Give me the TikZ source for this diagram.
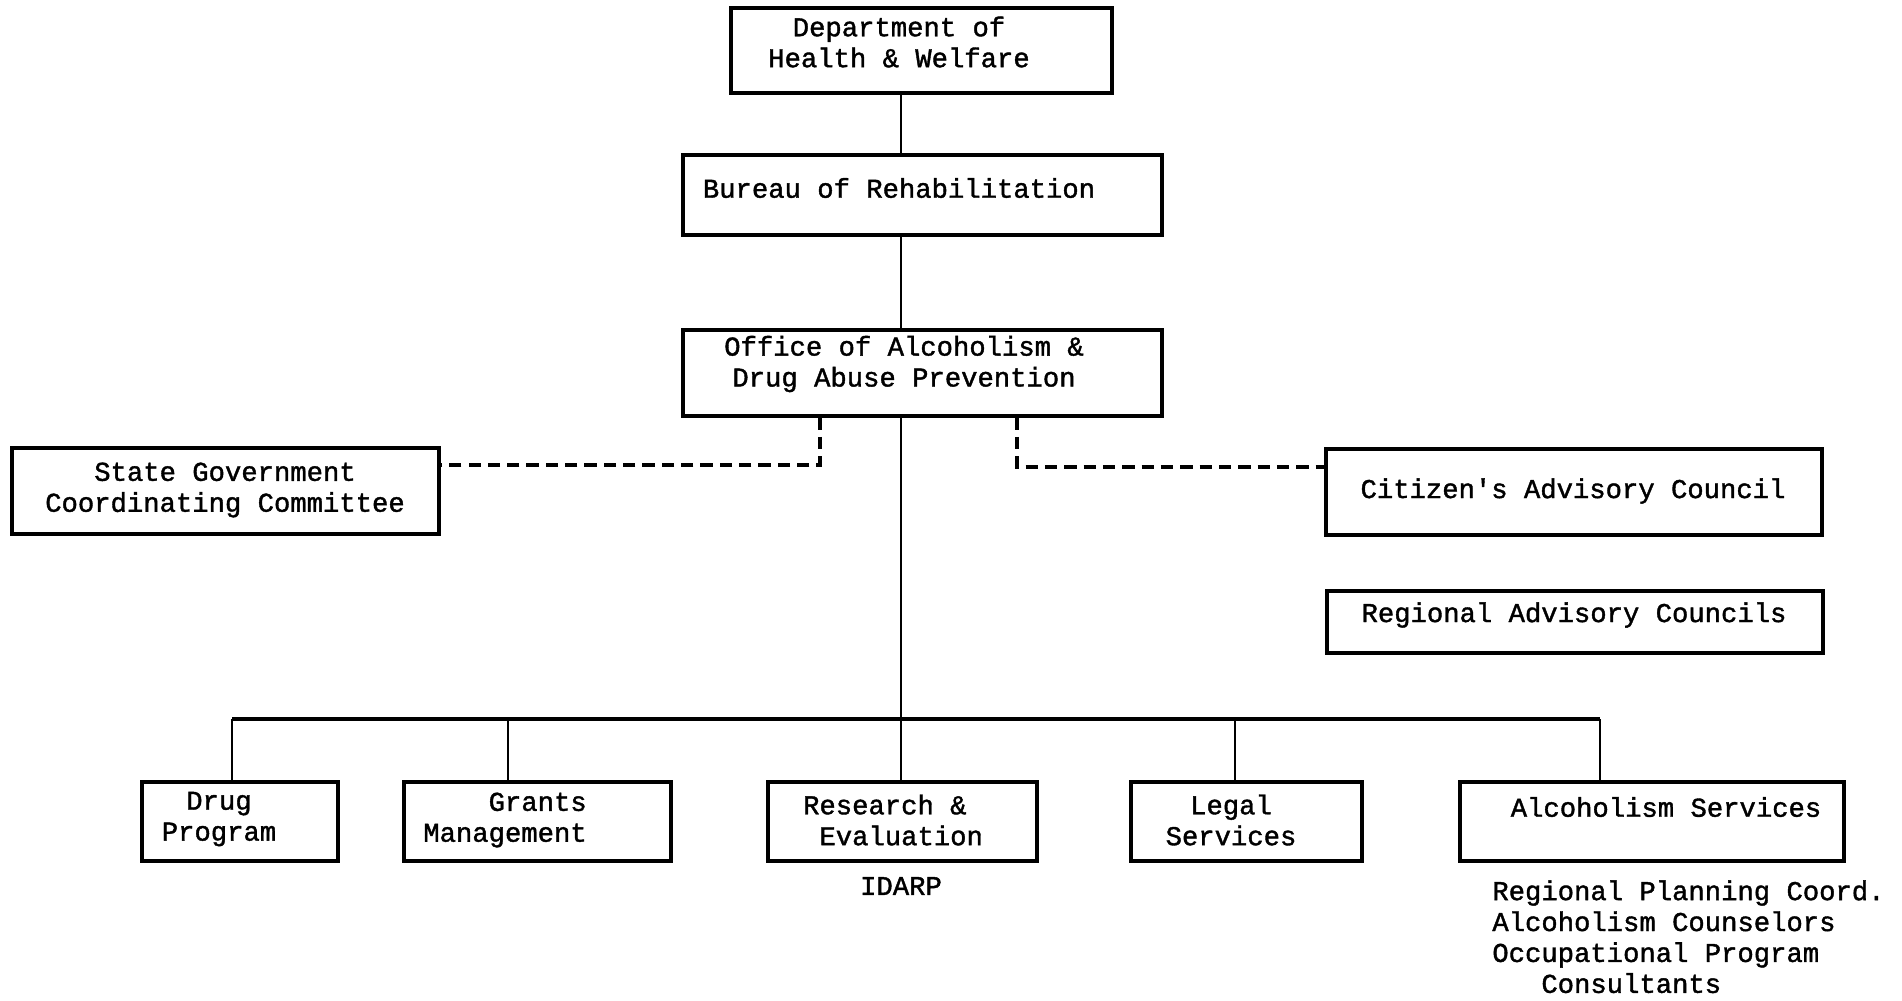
\documentclass[tikz,border=0pt]{standalone}
\usepackage{fontspec}
\setmainfont{Liberation Mono}[FakeBold=1.4]
\begin{document}
\begin{tikzpicture}[x=0.02cm,y=-0.02cm,
  unit/.style={draw,line width=1.9pt,inner sep=0pt},
  txt/.style={inner sep=0pt,font=\fontsize{15.5}{17.6}\selectfont,align=center},
  link/.style={line width=1.3pt},
  bus/.style={line width=2pt},
  dashlink/.style={line width=2pt,dash pattern=on 7pt off 4pt}]
  \useasboundingbox (0,0) rectangle (1902,1000);
  \node[unit,minimum width=7.62cm,minimum height=1.70cm] (dept) at (921.5,50.5) {};
  \node[unit,minimum width=9.58cm,minimum height=1.60cm] (bureau) at (922.5,195) {};
  \node[unit,minimum width=9.58cm,minimum height=1.72cm] (office) at (922.5,373) {};
  \node[unit,minimum width=8.54cm,minimum height=1.72cm] (state) at (225.5,491) {};
  \node[unit,minimum width=9.92cm,minimum height=1.72cm] (citizen) at (1574,492) {};
  \node[unit,minimum width=9.92cm,minimum height=1.24cm] (regional) at (1575,622) {};
  \node[unit,minimum width=3.92cm,minimum height=1.58cm] (drug) at (240,821.5) {};
  \node[unit,minimum width=5.34cm,minimum height=1.58cm] (grants) at (537.5,821.5) {};
  \node[unit,minimum width=5.38cm,minimum height=1.58cm] (research) at (902.5,821.5) {};
  \node[unit,minimum width=4.62cm,minimum height=1.58cm] (legal) at (1246.5,821.5) {};
  \node[unit,minimum width=7.68cm,minimum height=1.58cm] (alcohol) at (1652,821.5) {};

  \draw (899,42) node[txt] (deptT) {Department of\\Health \& Welfare};
  \draw (899,188) node[txt] (bureauT) {Bureau of Rehabilitation};
  \draw (904,364) node[txt] (officeT) {Office of Alcoholism \&\\Drug Abuse Prevention};
  \draw (225,490) node[txt] (stateT) {State Government\\Coordinating Committee};
  \draw (1573,491) node[txt] (citizenT) {Citizen\textquotesingle s Advisory Council};
  \draw (1574,615) node[txt] (regionalT) {Regional Advisory Councils};
  \draw (219,819) node[txt] (drugT) {Drug\\Program};
  \draw (505,820) node[txt,align=right] (grantsT) {Grants\\Management};
  \draw (893,820) node[txt,align=left] (researchT) {Research \&\\\hspace*{0.6em}Evaluation};
  \draw (1231,820) node[txt] (legalT) {Legal\\Services};
  \draw (1666,807) node[txt] (alcoholT) {Alcoholism Services};
  \draw (901,886) node[txt] (idarp) {IDARP};
  \draw (1492,880) node[txt,align=left,anchor=north west] (alcoholSub)
    {Regional Planning Coord.\\Alcoholism Counselors\\Occupational Program\\\hspace*{1.8em}Consultants};

  \coordinate (spine) at (901,0);
  \draw[link] (spine |- dept.south) -- (spine |- bureau.north);
  \draw[link] (spine |- bureau.south) -- (spine |- office.north);
  \draw[link] (spine |- office.south) -- (spine |- research.north);
  \coordinate (busW) at (232,719);
  \coordinate (busE) at (1600,719);
  \draw[bus] (busW) -- (busE);
  \foreach \n/\x in {drug/232,grants/508,legal/1235,alcohol/1600}
    \draw[link] (\x,719) -- (\x,0 |- \n.north);
  \draw[dashlink] (820,0 |- office.south) |- (state.east |- 0,465);
  \draw[dashlink] (1017,0 |- office.south) |- (citizen.west |- 0,467);
\end{tikzpicture}
\end{document}
